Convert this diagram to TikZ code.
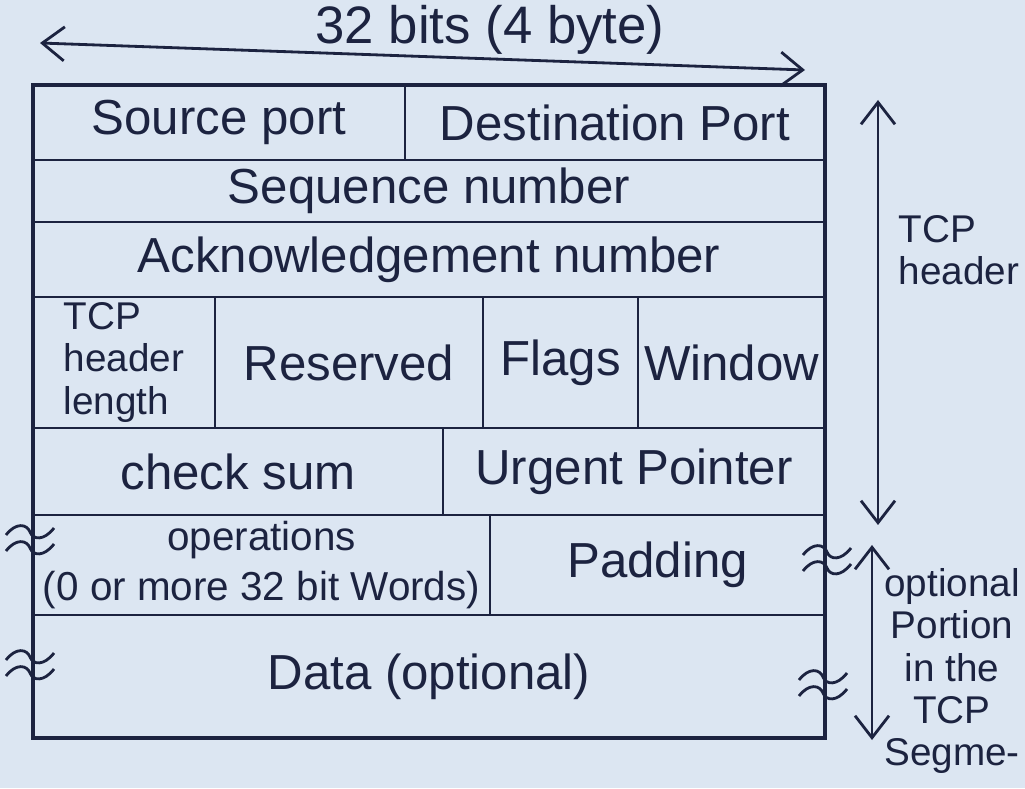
\documentclass[tikz,border=0pt]{standalone}
\usepackage{fontspec}
\setmainfont{Liberation Sans}
\usepackage{xcolor}
\usetikzlibrary{arrows.meta}
\definecolor{paper}{HTML}{DCE6F2}
\definecolor{ink}{HTML}{1C2340}
\tikzset{
  >={Straight Barb[length=2.2mm,width=3.4mm]},
  field/.style={draw=ink,thick,rectangle,inner sep=0,outer sep=0,align=center,text=ink,font=\fontsize{14}{16}\selectfont},
  frame/.style={draw=ink,line width=1.4pt},
  span/.style={<->,ink,thick},
  note/.style={text=ink,inner sep=0,font=\fontsize{11}{12}\selectfont},
  brk/.pic={
    \foreach \d in {0.08,-0.08}
      \draw[ink,thick] (-0.24,\d-0.03) .. controls (-0.14,\d+0.1) and (-0.03,\d+0.08) .. (0,\d)
        .. controls (0.03,\d-0.08) and (0.14,\d-0.09) .. (0.24,\d+0.04);
  }
}

\begin{document}
\begin{tikzpicture}

\fill[paper] (0,0) rectangle (10.25,7.88);
\useasboundingbox (0,0) rectangle (10.25,7.88);

% The fields, row by row
\node[field, minimum width=3.72cm, minimum height=0.75cm] (src) at (2.19,6.655) {Source port};
\node[field, minimum width=4.20cm, minimum height=0.75cm] (dst) at (6.15,6.655) {Destination Port};

\node[field, minimum width=7.92cm, minimum height=0.62cm] (seq) at (4.29,5.97) {Sequence number};

\node[field, minimum width=7.92cm, minimum height=0.75cm] (ack) at (4.29,5.285) {Acknowledgement number};

\node[field, minimum width=1.82cm, minimum height=1.31cm, align=left, font=\fontsize{11}{12}\selectfont] (hlen) at (1.24,4.255) {TCP\\header\\length};
\node[field, minimum width=2.68cm, minimum height=1.31cm] (rsv) at (3.49,4.255) {Reserved};
\node[field, minimum width=1.55cm, minimum height=1.31cm] (flags) at (5.605,4.255) {Flags};
\node[field, minimum width=1.87cm, minimum height=1.31cm] (win) at (7.315,4.255) {Window};

\node[field, minimum width=4.10cm, minimum height=0.87cm] (chk) at (2.38,3.165) {check sum};
\node[field, minimum width=3.82cm, minimum height=0.87cm] (urg) at (6.34,3.165) {Urgent Pointer};

\node[field, minimum width=4.57cm, minimum height=1.00cm, font=\fontsize{11.5}{14}\selectfont] (opt) at (2.615,2.23) {operations\\(0 or more 32 bit Words)};
\node[field, minimum width=3.35cm, minimum height=1.00cm] (pad) at (6.575,2.23) {Padding};

\node[field, minimum width=7.92cm, minimum height=1.23cm] (data) at (4.29,1.115) {Data (optional)};

% Outer frame
\draw[frame] (src.north west) rectangle (data.south east);

% Breaks in the sides
\pic at ([xshift=-0.03cm]opt.west |- 0,2.48) {brk};
\pic at ([xshift=-0.03cm]data.west |- 0,1.23) {brk};
\pic at ([xshift=0.02cm]pad.east |- 0,2.28) {brk};
\pic at ([xshift=-0.02cm]data.east |- 0,1.03) {brk};

% The width on top
\coordinate (wl) at (0.40,7.45);
\coordinate (wr) at (8.05,7.18);
\draw[span] (wl) -- (wr);
\node[note, font=\fontsize{15}{18}\selectfont] (bits) at (4.90,7.58) {32 bits (4 byte)};

% The spans on the right
\coordinate (hdtop) at (8.78,6.88);
\coordinate (hdbot) at (8.78,2.63);
\draw[span] (hdtop) -- (hdbot);
\node[note, anchor=west, align=left] (hdr) at (8.98,5.38) {TCP\\header};

\coordinate (optop) at (8.72,2.43);
\coordinate (opbot) at (8.72,0.48);
\draw[span] (optop) -- (opbot);
\node[note, anchor=north, align=center] (optn) at (9.52,2.20) {optional\\Portion\\in the\\TCP\\Segme-};

\end{tikzpicture}
\end{document}
